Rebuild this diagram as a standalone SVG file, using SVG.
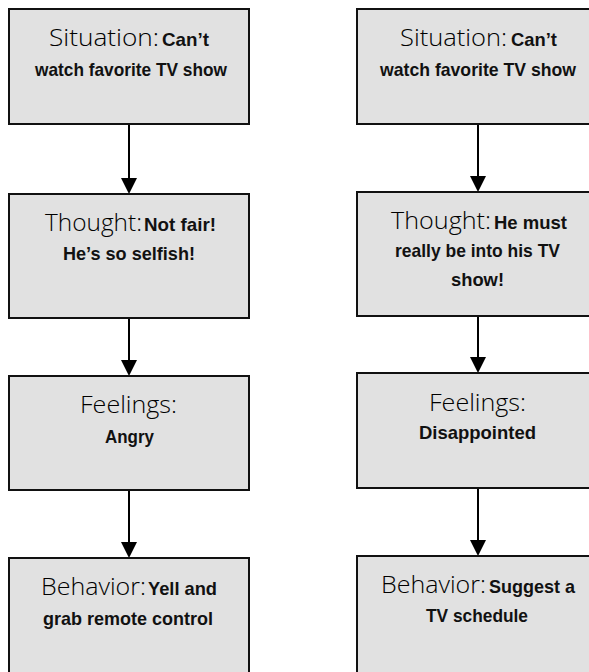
<svg xmlns="http://www.w3.org/2000/svg" width="589" height="672" viewBox="0 0 589 672">
<style>
.box{fill:#e1e1e1;stroke:#111;stroke-width:2}
.lab{font-family:"Open Sans","Noto Sans",sans-serif;font-weight:300;font-size:23px;fill:#000}
.val{font-family:"Liberation Sans",Arial,sans-serif;font-weight:bold;font-size:19px;fill:#111}
.edge{stroke:#000;stroke-width:2;fill:none}
</style>
<rect width="589" height="672" fill="#fff"/>
<g id="connectors">
<line class="edge" x1="129" y1="125" x2="129" y2="179"/>
<path d="M121,178 L137,178 L129,194 Z"/>
<line class="edge" x1="129" y1="308" x2="129" y2="361"/>
<path d="M121,360 L137,360 L129,376 Z"/>
<line class="edge" x1="129" y1="491" x2="129" y2="543"/>
<path d="M121,542 L137,542 L129,558 Z"/>
<line class="edge" x1="478" y1="125" x2="478" y2="177"/>
<path d="M470,176 L486,176 L478,192 Z"/>
<line class="edge" x1="478" y1="306" x2="478" y2="358"/>
<path d="M470,357 L486,357 L478,373 Z"/>
<line class="edge" x1="478" y1="489" x2="478" y2="541"/>
<path d="M470,540 L486,540 L478,556 Z"/>
</g>
<g id="l-situation">
<rect class="box" x="9" y="9" width="240" height="115"/>
<text class="lab" x="49" y="46" textLength="110" lengthAdjust="spacingAndGlyphs">Situation:</text>
<text class="val" x="162" y="46" textLength="47" lengthAdjust="spacingAndGlyphs">Can’t</text>
<text class="val" x="35" y="76" textLength="192" lengthAdjust="spacingAndGlyphs">watch favorite TV show</text>
</g>
<g id="l-thought">
<rect class="box" x="9" y="194" width="240" height="124"/>
<text class="lab" x="45" y="231" textLength="97" lengthAdjust="spacingAndGlyphs">Thought:</text>
<text class="val" x="144" y="231" textLength="72" lengthAdjust="spacingAndGlyphs">Not fair!</text>
<text class="val" x="63" y="260" textLength="132" lengthAdjust="spacingAndGlyphs">He’s so selfish!</text>
</g>
<g id="l-feelings">
<rect class="box" x="9" y="376" width="240" height="114"/>
<text class="lab" x="80" y="413" textLength="97" lengthAdjust="spacingAndGlyphs">Feelings:</text>
<text class="val" x="105" y="443" textLength="49" lengthAdjust="spacingAndGlyphs">Angry</text>
</g>
<g id="l-behavior">
<rect class="box" x="9" y="558" width="240" height="120"/>
<text class="lab" x="41" y="595" textLength="105" lengthAdjust="spacingAndGlyphs">Behavior:</text>
<text class="val" x="148" y="595" textLength="69" lengthAdjust="spacingAndGlyphs">Yell and</text>
<text class="val" x="43" y="625" textLength="170" lengthAdjust="spacingAndGlyphs">grab remote control</text>
</g>
<g id="r-situation">
<rect class="box" x="357" y="9" width="242" height="115"/>
<text class="lab" x="400" y="46" textLength="107" lengthAdjust="spacingAndGlyphs">Situation:</text>
<text class="val" x="511" y="46" textLength="46" lengthAdjust="spacingAndGlyphs">Can’t</text>
<text class="val" x="380" y="76" textLength="196" lengthAdjust="spacingAndGlyphs">watch favorite TV show</text>
</g>
<g id="r-thought">
<rect class="box" x="357" y="192" width="242" height="124"/>
<text class="lab" x="391" y="229" textLength="100" lengthAdjust="spacingAndGlyphs">Thought:</text>
<text class="val" x="494" y="229" textLength="73" lengthAdjust="spacingAndGlyphs">He must</text>
<text class="val" x="395" y="257" textLength="165" lengthAdjust="spacingAndGlyphs">really be into his TV</text>
<text class="val" x="451" y="286" textLength="53" lengthAdjust="spacingAndGlyphs">show!</text>
</g>
<g id="r-feelings">
<rect class="box" x="357" y="373" width="242" height="115"/>
<text class="lab" x="429" y="411" textLength="97" lengthAdjust="spacingAndGlyphs">Feelings:</text>
<text class="val" x="419" y="439" textLength="117" lengthAdjust="spacingAndGlyphs">Disappointed</text>
</g>
<g id="r-behavior">
<rect class="box" x="357" y="556" width="242" height="122"/>
<text class="lab" x="381" y="593" textLength="105" lengthAdjust="spacingAndGlyphs">Behavior:</text>
<text class="val" x="489" y="593" textLength="86" lengthAdjust="spacingAndGlyphs">Suggest a</text>
<text class="val" x="426" y="622" textLength="102" lengthAdjust="spacingAndGlyphs">TV schedule</text>
</g>
</svg>
